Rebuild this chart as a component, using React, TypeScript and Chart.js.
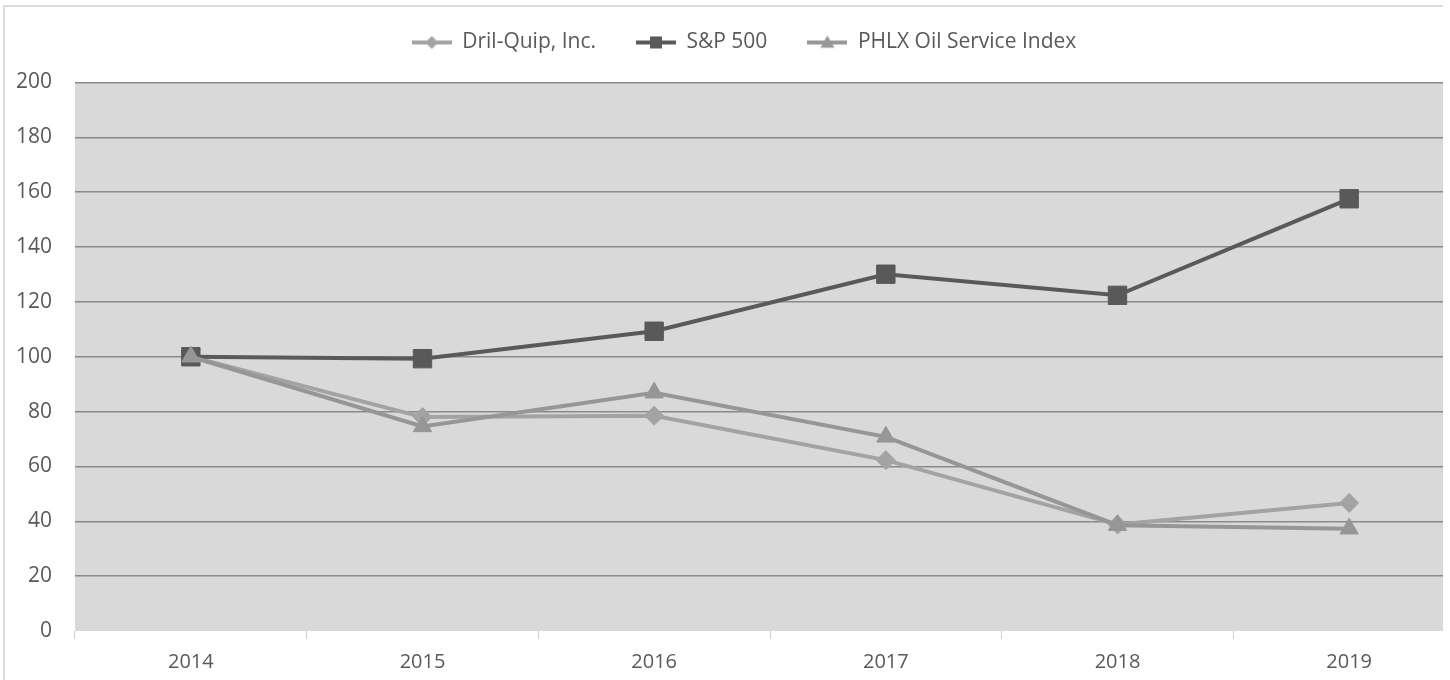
import React, { useEffect, useRef } from "react";
import { Chart, registerables } from "chart.js";

Chart.register(...registerables);

const years = ["2014", "2015", "2016", "2017", "2018", "2019"];
const drilQuip = [100, 78, 78.5, 62.3, 38.8, 46.7];
const sp500 = [100, 99.3, 109.3, 130.1, 122.4, 157.6];
const phlx = [100, 74.6, 86.9, 70.8, 38.6, 37.3];
const yTicks = [0, 20, 40, 60, 80, 100, 120, 140, 160, 180, 200];

const FONT = "'Open Sans', 'Noto Sans', sans-serif";
const TEXT = "#595959";

function legendIcon(color: string, style: string, r: number): HTMLCanvasElement {
  const c = document.createElement("canvas");
  c.width = 40;
  c.height = 20;
  const ctx = c.getContext("2d")!;
  ctx.strokeStyle = color;
  ctx.fillStyle = color;
  ctx.lineWidth = 4;
  ctx.beginPath();
  ctx.moveTo(0, 10);
  ctx.lineTo(40, 10);
  ctx.stroke();
  ctx.beginPath();
  const cx = 20;
  if (style === "rect") {
    ctx.rect(cx - r, 10 - r, 2 * r, 2 * r);
  } else if (style === "rectRot") {
    ctx.moveTo(cx, 10 - r);
    ctx.lineTo(cx + r, 10);
    ctx.lineTo(cx, 10 + r);
    ctx.lineTo(cx - r, 10);
    ctx.closePath();
  } else {
    ctx.moveTo(cx, 10 - r);
    ctx.lineTo(cx + r, 10 + r * 0.75);
    ctx.lineTo(cx - r, 10 + r * 0.75);
    ctx.closePath();
  }
  ctx.fill();
  return c;
}

const bgPlugin = {
  id: "bgPlugin",
  beforeDraw(chart: any) {
    const { ctx, chartArea } = chart;
    ctx.save();
    ctx.fillStyle = "#ffffff";
    ctx.fillRect(0, 0, chart.width, chart.height);
    ctx.strokeStyle = "#dcdcdc";
    ctx.lineWidth = 2;
    ctx.strokeRect(4, 6, chart.width - 6, chart.height + 10);
    ctx.fillStyle = "#d9d9d9";
    ctx.fillRect(chartArea.left, chartArea.top, chartArea.right - chartArea.left, chartArea.bottom - chartArea.top);
    ctx.restore();
  },
};

export default function App() {
  const ref = useRef<HTMLCanvasElement>(null);
  useEffect(() => {
    if (!ref.current) return;
    const colors = ["#a3a3a3", "#595959", "#969696"];
    const styles = ["rectRot", "rect", "triangle"];
    const icons = [
      legendIcon(colors[0], "rectRot", 6.5),
      legendIcon(colors[1], "rect", 6),
      legendIcon(colors[2], "triangle", 7),
    ];
    const chart = new Chart(ref.current, {
      type: "line",
      data: {
        labels: years,
        datasets: [
          {
            label: "Dril-Quip, Inc.",
            data: drilQuip,
            borderColor: colors[0],
            backgroundColor: colors[0],
            pointStyle: styles[0] as any,
            pointRadius: 9.5,
            borderWidth: 4,
            pointBorderWidth: 1,
            order: 3,
          },
          {
            label: "S&P 500",
            data: sp500,
            borderColor: colors[1],
            backgroundColor: colors[1],
            pointStyle: styles[1] as any,
            pointRadius: 13,
            borderWidth: 4,
            pointBorderWidth: 1,
            order: 2,
          },
          {
            label: "PHLX Oil Service Index",
            data: phlx,
            borderColor: colors[2],
            backgroundColor: colors[2],
            pointStyle: styles[2] as any,
            pointRadius: 10.5,
            borderWidth: 4,
            pointBorderWidth: 1,
            order: 1,
          },
        ],
      },
      options: {
        animation: false,
        responsive: false,
        layout: { padding: { left: 15, right: 6, top: -8, bottom: 0 } },
        plugins: {
          tooltip: { enabled: false },
          title: {
            display: true,
            text: " ",
            position: "top",
            weight: 500,
            font: { size: 10, lineHeight: 1.2 },
            padding: { top: 0, bottom: 7.5 },
          } as any,
          legend: {
            position: "top",
            weight: 1000,
            labels: {
              usePointStyle: true,
              pointStyleWidth: 40,
              padding: 40,
              color: TEXT,
              font: { family: FONT, size: 21 },
              generateLabels: (c: any) =>
                c.data.datasets.map((d: any, i: number) => ({
                  text: d.label,
                  fillStyle: colors[i],
                  strokeStyle: colors[i],
                  lineWidth: 0,
                  pointStyle: icons[i],
                  datasetIndex: i,
                  hidden: false,
                  fontColor: TEXT,
                })),
            },
          } as any,
        },
        scales: {
          x: {
            type: "category",
            offset: true,
            border: { display: false },
            afterFit: (s: any) => {
              s.height = 49;
            },
            grid: {
              offset: true,
              drawOnChartArea: false,
              drawTicks: true,
              tickLength: 8,
              color: "#d0d0d0",
              lineWidth: 1,
            },
            ticks: { color: TEXT, font: { family: FONT, size: 20 }, padding: 11 },
          },
          y: {
            min: 0,
            max: 200,
            afterBuildTicks: (s: any) => {
              s.ticks = yTicks.map((v) => ({ value: v }));
            },
            afterFit: (s: any) => {
              s.width = 60;
            },
            border: { display: false },
            grid: {
              drawTicks: false,
              color: (c: any) => (c.tick && c.tick.value === 0 ? "rgba(0,0,0,0)" : "#8a8a8a"),
              lineWidth: 1.5,
            },
            ticks: { color: TEXT, font: { family: FONT, size: 21 }, padding: 23 },
          },
        },
      },
      plugins: [bgPlugin],
    });
    return () => chart.destroy();
  }, []);
  return (
    <div style={{ position: "fixed", left: 0, top: 0, width: 1443, height: 680, overflow: "hidden", background: "#fff" }}>
      <canvas ref={ref} width={1479} height={680} style={{ display: "block" }} />
    </div>
  );
}
